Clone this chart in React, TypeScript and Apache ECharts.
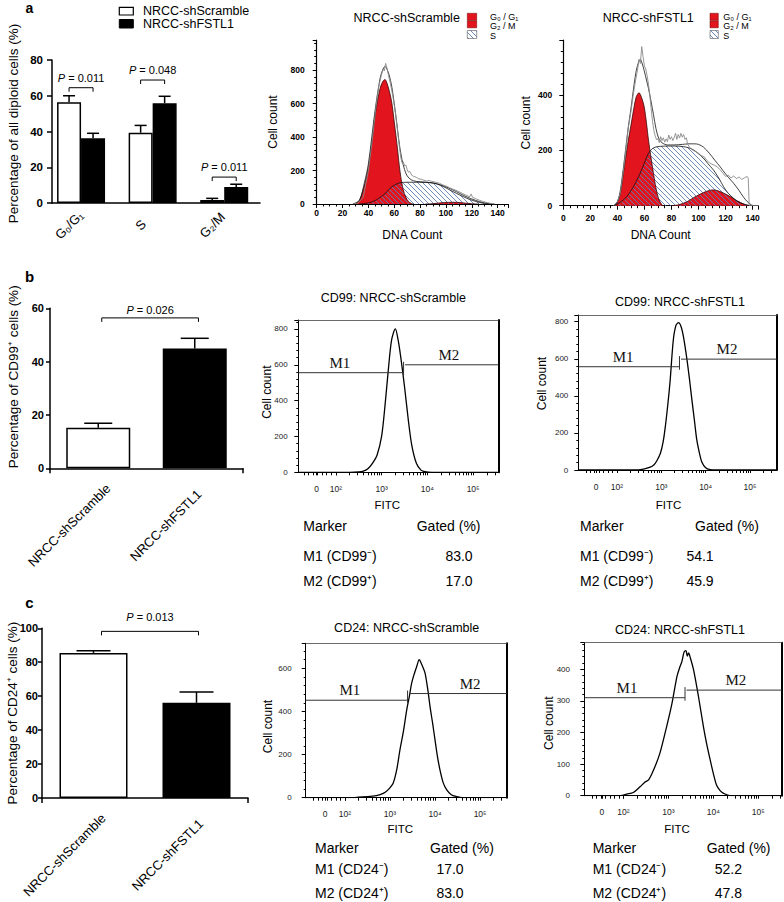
import React, { useEffect, useRef } from 'react';
import * as echarts from 'echarts';

const SANS = "'Liberation Sans', Arial, Helvetica, sans-serif";
const SERIF = "'Liberation Serif', 'Times New Roman', Times, serif";

// ---------------- Panel a: cell-cycle bar chart ----------------
const phaseCategories = ['G₀/G₁', 'S', 'G₂/M'];
const phaseScramble = [56.3, 39.3, 1.7];
const phaseScrambleErr = [60.0, 43.4, 2.6];
const phaseFSTL1 = [36.2, 55.8, 9.0];
const phaseFSTL1Err = [39.0, 59.7, 10.5];
const phasePValues = ['0.011', '0.048', '0.011'];
const phaseBracketY = [64.5, 68.8, 14.5];
const barLegend = ['NRCC-shScramble', 'NRCC-shFSTL1'];

// ---------------- Panel a: DNA histograms (x: DNA count, y: cell count) ----------------
const scrG1 = [[28, 0], [30, 3], [33, 20], [35, 60], [37.4, 124], [40, 220], [42, 330], [43.5, 420], [45, 521], [47, 615], [49, 690], [51, 730], [52.8, 744], [54, 730], [56, 680], [58, 610], [60, 490], [61.3, 410], [62.5, 330], [63.9, 230], [65, 165], [67, 84], [69, 40], [71, 15], [73.5, 2], [75, 0]];
const scrG2 = [[84, 0], [90, 2], [96, 7], [102, 10], [108, 10], [114, 6], [120, 2], [125, 0]];
const scrS = [[33, 0], [38, 4], [42, 10], [46, 24], [50, 45], [53, 62], [56.7, 94], [60, 112], [64.4, 127], [70, 130], [80, 130], [88, 127], [92.8, 120], [98, 104], [103, 84], [108, 64], [113.4, 44], [118, 28], [123.7, 14], [128, 6], [134, 0]];
const scrFit = [[28, 0], [33, 22], [37, 130], [40, 240], [45, 550], [49, 750], [51, 800], [52.8, 822], [54, 812], [56, 772], [58, 705], [60, 600], [62, 480], [64, 355], [66, 265], [68, 205], [70, 168], [73, 145], [77, 135], [83, 131], [90, 126], [96, 114], [102, 96], [108, 74], [114, 50], [120, 30], [126, 14], [131, 5], [137, 0]];
const scrRaw = [[28, 0], [32, 6], [36, 40], [40, 200], [43, 380], [46, 590], [48, 700], [50, 770], [51.3, 805], [52.3, 795], [53.3, 840], [54.3, 815], [55.5, 770], [57, 720], [59, 640], [61, 540], [62.5, 440], [64, 340], [65, 280], [66, 245], [67, 252], [68, 228], [69, 233], [70, 205], [71, 190], [72, 195], [73.5, 172], [75, 165], [77, 160], [79, 150], [81, 148], [83, 142], [85, 138], [87, 140], [89, 135], [91, 132], [93, 128], [95, 124], [97, 116], [99, 110], [101, 104], [103, 96], [105, 90], [107, 84], [109, 78], [111, 70], [113, 62], [115, 55], [117, 48], [118.5, 44], [119.5, 60], [120.5, 40], [123, 32], [126, 22], [129, 14], [132, 8], [135, 3], [138, 0]];

const fstG1 = [[37, 0], [39, 5], [42, 40], [44.4, 117], [46, 170], [48.1, 238], [50, 290], [52.4, 359], [54, 395], [56, 409], [58, 390], [59.8, 359], [61.5, 300], [63, 238], [65, 170], [66.7, 117], [68.5, 65], [70.5, 25], [72.9, 3], [74, 0]];
const fstG2 = [[80, 0], [85, 3], [91.4, 14], [96, 28], [101.3, 42], [106, 52], [110, 57], [113, 56], [116, 51], [120, 42], [123.5, 33], [127, 22], [130.9, 12], [134, 5], [137, 0]];
const fstS = [[37, 0], [42, 12], [47, 33], [52, 70], [56.8, 117], [60, 155], [63, 190], [65.5, 205], [67.9, 212], [72, 215], [76.6, 216], [82, 216], [88.9, 214], [93, 209], [96.3, 202], [100, 188], [103.7, 172], [107, 152], [111.1, 129], [115, 100], [118.5, 69], [122, 45], [125.9, 27], [129, 15], [133.3, 6], [138.3, 0]];
const fstFit = [[37, 0], [40, 15], [42, 50], [44.4, 135], [46, 200], [48.1, 285], [50, 350], [52.4, 440], [54, 490], [56, 525], [57, 530], [58, 520], [59.8, 490], [61.5, 455], [63, 425], [65, 375], [66.7, 330], [68.5, 280], [70.5, 245], [73, 228], [77, 220], [82, 220], [88, 222], [93, 224], [97, 224], [100, 222], [103.7, 212], [108, 190], [112, 165], [116, 141], [120, 115], [124, 92], [126, 81], [130, 55], [133, 33], [136, 15], [139, 3], [141, 0]];
const fstRaw = [[37, 0], [40, 14], [42, 42], [44, 110], [46, 190], [48, 280], [50, 340], [52, 410], [53.5, 455], [55, 495], [56, 530], [57, 515], [58, 576], [59, 540], [60, 505], [61, 495], [62, 470], [63, 440], [64, 400], [65, 350], [66, 305], [67, 272], [68, 252], [69, 238], [70, 244], [71, 228], [72, 250], [73, 236], [74, 246], [75, 230], [76, 242], [77, 232], [78, 256], [79, 240], [80, 250], [81, 236], [82, 246], [83, 262], [84, 240], [85, 258], [86, 245], [87, 262], [88, 248], [89, 258], [90, 240], [91, 246], [92, 222], [94, 208], [96, 200], [98, 196], [100, 190], [102, 181], [104, 178], [106, 165], [108, 156], [110, 150], [112, 146], [114, 140], [116, 130], [118, 118], [120, 106], [122, 111], [124, 100], [126, 108], [128, 98], [130, 104], [132, 95], [134, 101], [136, 106], [136.8, 100], [137.5, 0], [144, 0]];
const dnaLegend = ['G₀ / G₁', 'G₂ / M', 'S'];

// ---------------- Panels b, c: bar charts ----------------
const groupCategories = ['NRCC-shScramble', 'NRCC-shFSTL1'];
const cd99Percent = [15.2, 44.9];
const cd99Err = [16.9, 48.75];
const cd99P = '0.026';
const cd99BracketY = 56.4;
const cd24Percent = [85.5, 56.1];
const cd24Err = [86.7, 62.5];
const cd24P = '0.013';
const cd24BracketY = 98.2;

// ---------------- Panels b, c: flow histograms (x: log10 FITC, y: cell count) ----------------
const cd99ScrHist = [[1.18, 0], [2.3, 0], [2.5, 2], [2.6, 6], [2.7, 20], [2.8, 50], [2.9, 95], [3.0, 200], [3.07, 360], [3.15, 580], [3.22, 740], [3.3, 800], [3.36, 740], [3.42, 640], [3.5, 480], [3.58, 300], [3.66, 150], [3.76, 50], [3.86, 12], [3.95, 3], [4.1, 0], [5.55, 0]];
const cd99FstHist = [[1.13, 0], [2.4, 0], [2.6, 5], [2.75, 15], [2.83, 27], [2.9, 50], [2.98, 90], [3.04, 150], [3.09, 233], [3.15, 360], [3.2, 485], [3.27, 700], [3.33, 780], [3.39, 795], [3.45, 770], [3.5, 718], [3.58, 593], [3.64, 480], [3.69, 377], [3.75, 260], [3.8, 162], [3.86, 90], [3.91, 45], [4.0, 12], [4.1, 2], [4.25, 0], [5.6, 0]];
const cd24ScrHist = [[1.13, 0], [2.2, 0], [2.3, 3], [2.5, 5], [2.7, 10], [2.85, 20], [2.95, 35], [3.07, 67], [3.15, 130], [3.22, 220], [3.3, 310], [3.37, 405], [3.43, 470], [3.48, 530], [3.54, 575], [3.59, 606], [3.65, 640], [3.7, 620], [3.74, 600], [3.78, 576], [3.84, 500], [3.89, 421], [3.95, 340], [4.0, 267], [4.05, 195], [4.11, 128], [4.18, 70], [4.26, 36], [4.36, 14], [4.48, 5], [4.6, 0], [5.59, 0]];
const cd24FstHist = [[1.13, 0], [1.9, 0], [2.0, 2], [2.07, 5], [2.22, 10], [2.37, 28], [2.47, 42], [2.56, 50], [2.67, 81], [2.81, 134], [2.96, 218], [3.08, 292], [3.19, 377], [3.25, 405], [3.3, 424], [3.35, 455], [3.39, 459], [3.42, 442], [3.45, 452], [3.48, 440], [3.56, 398], [3.67, 313], [3.78, 218], [3.85, 165], [3.93, 113], [4.0, 70], [4.07, 34], [4.15, 16], [4.22, 8], [4.37, 0], [5.52, 0]];
// [gate position, M1 level, M2 level, M1 label x, M2 label x]
const cd99ScrMarker = [3.48, 556, 600, 2.09, 4.47];
const cd99FstMarker = [3.41, 557, 598, 2.14, 4.48];
const cd24ScrMarker = [3.39, 452, 483, 2.11, 4.78];
const cd24FstMarker = [3.37, 310, 334, 2.08, 4.5];
const flowTickLabels = ['0', '10²', '10³', '10⁴', '10⁵'];
const flowTitles = ['CD99: NRCC-shScramble', 'CD99: NRCC-shFSTL1', 'CD24: NRCC-shScramble', 'CD24: NRCC-shFSTL1'];
const tableHeader = ['Marker', 'Gated (%)'];
const cd99Rows = ['M1 (CD99⁻)', 'M2 (CD99⁺)'];
const cd24Rows = ['M1 (CD24⁻)', 'M2 (CD24⁺)'];
const cd99ScrGated = ['83.0', '17.0'];
const cd99FstGated = ['54.1', '45.9'];
const cd24ScrGated = ['17.0', '83.0'];
const cd24FstGated = ['52.2', '47.8'];

// ---------------- styles ----------------
const RED = '#e2141d';
const HATCH_URL =
  'data:image/svg+xml;charset=utf-8,' +
  encodeURIComponent(
    "<svg xmlns='http://www.w3.org/2000/svg' width='5' height='5'><path d='M-1,-1 L6,6 M-1,4 L1,6 M4,-1 L6,1' stroke='#5f7fb3' stroke-width='0.9' fill='none'/></svg>"
  );
const hatch: any = { image: HATCH_URL, repeat: 'repeat', imageWidth: 5, imageHeight: 5 };

function txt(text: string, x: number, y: number, o: any = {}) {
  const align = o.align || 'left';
  const va = o.va || 'middle';
  const style: any = {
    text, fill: o.color || '#000', fontSize: o.size || 12, fontFamily: o.family || SANS,
    fontWeight: o.weight || 'normal', align, verticalAlign: va, textAlign: align, textVerticalAlign: va,
  };
  if (o.lineHeight) { style.lineHeight = o.lineHeight; style.textLineHeight = o.lineHeight; }
  return { type: 'text', x, y, silent: true, style };
}

function axisLine(w = 1.5, color = '#000') {
  return { show: true, onZero: false, lineStyle: { color, width: w } };
}

function buildOption() {
  const grids: any[] = [];
  const xAxes: any[] = [];
  const yAxes: any[] = [];
  const series: any[] = [];
  const graphics: any[] = [];

  const addGrid = (g: any) => { grids.push({ ...g, outerBoundsMode: 'none', containLabel: false }); return grids.length - 1; };
  const addX = (a: any) => { xAxes.push(a); return xAxes.length - 1; };
  const addY = (a: any) => { yAxes.push(a); return yAxes.length - 1; };

  const errorSeries = (xi: number, yi: number, data: number[][], offset: number, cap: number) => ({
    type: 'custom', xAxisIndex: xi, yAxisIndex: yi, data, silent: true, z: 5, encode: { x: 0, y: 2 },
    renderItem: (params: any, api: any) => {
      const b = api.coord([api.value(0), api.value(1)]);
      const t = api.coord([api.value(0), api.value(2)]);
      const cx = b[0] + offset;
      const st = { stroke: '#000', lineWidth: 1.5 };
      return {
        type: 'group', children: [
          { type: 'line', shape: { x1: cx, y1: b[1], x2: cx, y2: t[1] }, style: st },
          { type: 'line', shape: { x1: cx - cap / 2, y1: t[1], x2: cx + cap / 2, y2: t[1] }, style: st },
        ],
      };
    },
  });

  const bracketSeries = (xi: number, yi: number, data: number[][], labels: string[], dx1: number, dx2: number, gap: number) => ({
    type: 'custom', xAxisIndex: xi, yAxisIndex: yi, data, silent: true, z: 5, encode: { x: [0, 1], y: 2 },
    renderItem: (params: any, api: any) => {
      const p1 = api.coord([api.value(0), api.value(2)]);
      const p2 = api.coord([api.value(1), api.value(2)]);
      const x1 = p1[0] + dx1, x2 = p2[0] + dx2, y = p1[1];
      const st = { stroke: '#000', lineWidth: 1 };
      return {
        type: 'group', children: [
          { type: 'line', shape: { x1, y1: y, x2, y2: y }, style: st },
          { type: 'line', shape: { x1, y1: y, x2: x1, y2: y + 4 }, style: st },
          { type: 'line', shape: { x1: x2, y1: y, x2, y2: y + 4 }, style: st },
          {
            type: 'text', x: (x1 + x2) / 2, y: y - gap,
            style: {
              text: '{i|P} = ' + labels[params.dataIndex], fill: '#000', fontSize: 11, fontFamily: SANS,
              align: 'center', verticalAlign: 'middle', textAlign: 'center', textVerticalAlign: 'middle',
              rich: { i: { fontStyle: 'italic', fontSize: 11, fontFamily: SANS, fill: '#000' } },
            },
          },
        ],
      };
    },
  });

  // rotated (45°) category labels, centred at an offset from each category position on the axis line
  const labelSeries = (xi: number, yi: number, labels: string[], dx: number, dy: number) => ({
    type: 'custom', xAxisIndex: xi, yAxisIndex: yi, data: labels.map((_, i) => [i, 0]), silent: true, z: 5,
    encode: { x: 0, y: 1 }, clip: false,
    renderItem: (params: any, api: any) => {
      const p = api.coord([api.value(0), 0]);
      return {
        type: 'text', x: p[0] + dx, y: p[1] + dy, rotation: Math.PI / 4,
        style: {
          text: labels[params.dataIndex], fill: '#000', fontSize: 13, fontFamily: SANS,
          align: 'center', verticalAlign: 'middle', textAlign: 'center', textVerticalAlign: 'middle',
        },
      };
    },
  });

  // ============ Panel a bar chart ============
  {
    const g = addGrid({ left: 52, top: 60, width: 208, height: 143 });
    const xi = addX({
      gridIndex: g, type: 'value', min: -0.406, max: 2.5, axisLine: axisLine(1.5), axisTick: { show: false },
      splitLine: { show: false }, axisLabel: { show: false },
    });
    const yi = addY({
      gridIndex: g, type: 'value', min: 0, max: 80, interval: 20, axisLine: axisLine(1.5),
      axisTick: { show: true, length: 5, lineStyle: { color: '#000', width: 1.5 } }, splitLine: { show: false },
      axisLabel: { fontSize: 11.5, fontWeight: 'bold', color: '#000', margin: 9, fontFamily: SANS },
      name: 'Percentage of all diploid cells (%)', nameLocation: 'middle', nameGap: 32, nameMoveOverlap: false,
      nameTextStyle: { fontSize: 13.5, color: '#000', fontFamily: SANS, padding: [0, 0, 0, 16] },
    });
    series.push({
      type: 'bar', name: barLegend[0], xAxisIndex: xi, yAxisIndex: yi, data: phaseScramble.map((v, i) => [i, v]),
      barWidth: 24, barGap: '0%', silent: true, itemStyle: { color: '#fff', borderColor: '#000', borderWidth: 1.5 },
    });
    series.push({
      type: 'bar', name: barLegend[1], xAxisIndex: xi, yAxisIndex: yi, data: phaseFSTL1.map((v, i) => [i, v]),
      barWidth: 24, barGap: '0%', silent: true, itemStyle: { color: '#000', borderColor: '#000', borderWidth: 1.5 },
    });
    series.push(errorSeries(xi, yi, phaseScramble.map((v, i) => [i, v, phaseScrambleErr[i]]), -12, 12));
    series.push(errorSeries(xi, yi, phaseFSTL1.map((v, i) => [i, v, phaseFSTL1Err[i]]), 12, 12));
    series.push(bracketSeries(xi, yi, phaseBracketY.map((y, i) => [i, i, y]), phasePValues, -12, 12, 10));
    series.push(labelSeries(xi, yi, phaseCategories, -12, 22));

    graphics.push({ type: 'rect', silent: true, shape: { x: 119.3, y: 7.3, width: 14, height: 7.7 }, style: { fill: '#fff', stroke: '#000', lineWidth: 1.2 } });
    graphics.push({ type: 'rect', silent: true, shape: { x: 119.3, y: 19.5, width: 14, height: 8.5 }, style: { fill: '#000', stroke: '#000', lineWidth: 1 } });
    graphics.push(txt(barLegend[0], 143, 11.2, { size: 12.5, lineHeight: 12.5 }));
    graphics.push(txt(barLegend[1], 143, 24, { size: 12.5, lineHeight: 12.5 }));
  }

  // ============ Panel a DNA histograms ============
  const dnaPanel = (cfg: any, g1: number[][], g2: number[][], s: number[][], fit: number[][], raw: number[][]) => {
    const g = addGrid({ left: cfg.left, top: cfg.top, width: cfg.width, height: cfg.height });
    const xi = addX({
      gridIndex: g, type: 'value', min: 0, max: cfg.xMax, interval: 20, axisLine: axisLine(1.2),
      axisTick: { show: true, length: 4, lineStyle: { color: '#000' } },
      minorTick: { show: true, splitNumber: 4, length: 2.5, lineStyle: { color: '#000' } },
      splitLine: { show: false }, minorSplitLine: { show: false },
      axisLabel: {
        formatter: (v: number) => (v % 20 === 0 && v <= 140 ? String(v) : ''), fontSize: 8.5, fontWeight: 'bold',
        color: '#000', margin: cfg.xMargin, fontFamily: SANS, showMaxLabel: false,
      },
      name: 'DNA Count', nameLocation: 'middle', nameGap: cfg.xNameGap, nameMoveOverlap: false,
      nameTextStyle: { fontSize: 12, color: '#000', fontFamily: SANS },
    });
    const yi = addY({
      gridIndex: g, type: 'value', min: 0, max: cfg.yMax, interval: 200, axisLine: axisLine(1.2),
      axisTick: { show: true, length: 4, lineStyle: { color: '#000' } },
      minorTick: { show: true, splitNumber: 5, length: 2.5, lineStyle: { color: '#000' } },
      splitLine: { show: false }, minorSplitLine: { show: false },
      axisLabel: {
        formatter: (v: number) => (v % 200 === 0 ? String(v) : ''), fontSize: 8.5, fontWeight: 'bold',
        color: '#000', margin: cfg.yMargin, fontFamily: SANS, showMaxLabel: false,
      },
      name: 'Cell count', nameLocation: 'middle', nameGap: cfg.yNameGap, nameMoveOverlap: false,
      nameTextStyle: { fontSize: 12, color: '#000', fontFamily: SANS },
    });
    const base = { type: 'line', xAxisIndex: xi, yAxisIndex: yi, symbol: 'none', silent: true };
    series.push({ ...base, name: 'G0/G1', data: g1, smooth: 0.3, lineStyle: { color: '#3a0808', width: 0.8 }, areaStyle: { color: RED, opacity: 1 } });
    series.push({ ...base, name: 'G2/M', data: g2, smooth: 0.3, lineStyle: { color: '#3a0808', width: 0.8 }, areaStyle: { color: RED, opacity: 1 } });
    series.push({ ...base, name: 'S', data: s, smooth: 0.3, lineStyle: { color: '#111', width: 0.8 }, areaStyle: { color: hatch, opacity: 1 } });
    series.push({ ...base, name: 'Fit', data: fit, smooth: 0.3, lineStyle: { color: '#111', width: 0.8 } });
    series.push({ ...base, name: 'Raw', data: raw, smooth: false, lineStyle: { color: '#8a8a8a', width: 0.9 } });

    graphics.push(txt(cfg.title, cfg.titleX, 18.3, { size: 12.5, align: 'center', lineHeight: 13 }));
    const bx = cfg.legendBoxX, bw = cfg.legendBoxW;
    graphics.push({ type: 'rect', silent: true, shape: { x: bx, y: 13.3, width: bw, height: 7 }, style: { fill: RED, stroke: '#6a0000', lineWidth: 0.5 } });
    graphics.push({ type: 'rect', silent: true, shape: { x: bx, y: 20.8, width: bw, height: 7 }, style: { fill: RED, stroke: '#6a0000', lineWidth: 0.5 } });
    graphics.push({ type: 'rect', silent: true, shape: { x: bx, y: 30.5, width: bw, height: 8 }, style: { fill: hatch, stroke: '#555', lineWidth: 0.6 } });
    graphics.push(txt(dnaLegend[0], cfg.legendTextX, 16.8, { size: 9, lineHeight: 9 }));
    graphics.push(txt(dnaLegend[1], cfg.legendTextX, 26.2, { size: 9, lineHeight: 9 }));
    graphics.push(txt(dnaLegend[2], cfg.legendTextX, 35.8, { size: 9, lineHeight: 9 }));
  };
  dnaPanel({ left: 316.7, top: 40, width: 191.3, height: 164, xMax: 148, yMax: 980, xMargin: 4, yMargin: 12, xNameGap: 25, yNameGap: 37.7, title: barLegend[0], titleX: 406.7, legendBoxX: 467.3, legendBoxW: 9.4, legendTextX: 490 }, scrG1, scrG2, scrS, scrFit, scrRaw);
  dnaPanel({ left: 563.3, top: 40, width: 194.7, height: 165.7, xMax: 144, yMax: 600, xMargin: 8, yMargin: 11, xNameGap: 23.3, yNameGap: 31.7, title: barLegend[1], titleX: 648.3, legendBoxX: 710, legendBoxW: 8.3, legendTextX: 723.3 }, fstG1, fstG2, fstS, fstFit, fstRaw);

  // ============ Panels b, c bar charts ============
  const groupBar = (cfg: any, values: number[], errs: number[], p: string, bracketY: number) => {
    const g = addGrid({ left: cfg.left, top: cfg.top, width: cfg.width, height: cfg.height });
    const xi = addX({
      gridIndex: g, type: 'category', data: groupCategories, axisLine: axisLine(1.5),
      axisTick: { show: true, length: 5, lineStyle: { color: '#000', width: 1.5 } },
      axisLabel: { show: false }, splitLine: { show: false },
    });
    const yi = addY({
      gridIndex: g, type: 'value', min: 0, max: cfg.yMax, interval: 20, axisLine: axisLine(1.5),
      axisTick: { show: true, length: 4, lineStyle: { color: '#000', width: 1.5 } }, splitLine: { show: false },
      axisLabel: { fontSize: 11, fontWeight: 'bold', color: '#000', margin: cfg.yMargin, fontFamily: SANS },
      name: cfg.yName, nameLocation: 'middle', nameGap: cfg.yNameGap, nameMoveOverlap: false,
      nameTextStyle: { fontSize: 13.5, color: '#000', fontFamily: SANS, padding: [0, 0, 0, cfg.namePad] },
    });
    const fills = ['#fff', '#000'];
    series.push({
      type: 'bar', xAxisIndex: xi, yAxisIndex: yi, barWidth: cfg.barWidth, silent: true,
      data: values.map((v, i) => ({ value: v, itemStyle: { color: fills[i], borderColor: '#000', borderWidth: 1.5 } })),
    });
    series.push(errorSeries(xi, yi, values.map((v, i) => [i, v, errs[i]]), 0, cfg.cap));
    series.push(bracketSeries(xi, yi, [[0, 1, bracketY]], [p], cfg.dx1, cfg.dx2, cfg.pGap));
    series.push(labelSeries(xi, yi, groupCategories, -29, 57));
  };
  groupBar({ left: 50, top: 308.3, width: 193, height: 160, yMax: 60, yMargin: 6, yNameGap: 30, namePad: 23, barWidth: 64, cap: 28, dx1: 3.5, dx2: 3.7, pGap: 8, yName: 'Percentage of CD99⁺ cells (%)' }, cd99Percent, cd99Err, cd99P, cd99BracketY);
  groupBar({ left: 42, top: 628.3, width: 206, height: 169.7, yMax: 100, yMargin: 4, yNameGap: 23, namePad: 0, barWidth: 68, cap: 34, dx1: 8, dx2: 2, pGap: 14, yName: 'Percentage of CD24⁺ cells (%)' }, cd24Percent, cd24Err, cd24P, cd24BracketY);

  graphics.push(txt('a', 29.5, 7.5, { size: 14, weight: 'bold', align: 'center', lineHeight: 14 }));
  graphics.push(txt('b', 29.5, 276, { size: 15, weight: 'bold', align: 'center', lineHeight: 15 }));
  graphics.push(txt('c', 29.5, 602.5, { size: 15, weight: 'bold', align: 'center', lineHeight: 15 }));

  // ============ Flow histograms ============
  const flowPanel = (cfg: any, hist: number[][], marker: number[], rows: string[], gated: string[]) => {
    const g = addGrid({ left: cfg.left, top: cfg.top, width: cfg.width, height: cfg.height });
    const ticks: number[] = [];
    for (let k = 2; k <= 9; k++) ticks.push(1.1 + k * 0.1);
    ticks.push(cfg.zero);
    for (let d = 2; d <= 5; d++) for (let k = 1; k <= 9; k++) { const v = d + Math.log10(k); if (v <= cfg.xMax) ticks.push(v); }
    const labelVals = [cfg.zero, 2, 3, 4, 5];
    const xi = addX({
      gridIndex: g, type: 'value', min: cfg.xMin, max: cfg.xMax, axisLine: axisLine(1),
      axisTick: { show: true, customValues: ticks, length: 3, lineStyle: { color: '#000' } },
      splitLine: { show: false },
      axisLabel: {
        customValues: labelVals, fontSize: 8.5, color: '#222', margin: 12, fontFamily: SANS,
        formatter: (v: number) => {
          let best = 0;
          labelVals.forEach((t, i) => { if (Math.abs(t - v) < Math.abs(labelVals[best] - v)) best = i; });
          return flowTickLabels[best];
        },
      },
      name: 'FITC', nameLocation: 'middle', nameGap: cfg.xNameGap, nameMoveOverlap: false,
      nameTextStyle: { fontSize: 11.5, color: '#000', fontFamily: SANS, padding: [0, cfg.xNamePad, 0, 0] },
    });
    addX({
      gridIndex: g, type: 'value', position: 'top', min: 0, max: 1, axisLine: axisLine(0.8, '#444'),
      axisTick: { show: false }, axisLabel: { show: false }, splitLine: { show: false },
    });
    const yi = addY({
      gridIndex: g, type: 'value', min: 0, max: cfg.yMax, interval: cfg.yInt, axisLine: axisLine(1),
      axisTick: { show: true, length: 4, lineStyle: { color: '#000' } },
      minorTick: { show: true, splitNumber: 5, length: 2, lineStyle: { color: '#000' } },
      splitLine: { show: false }, minorSplitLine: { show: false },
      axisLabel: {
        formatter: (v: number) => (v % cfg.yInt === 0 ? String(v) : ''), fontSize: 8, color: '#222',
        margin: cfg.yMargin, fontFamily: SANS, showMaxLabel: false,
      },
      name: 'Cell count', nameLocation: 'middle', nameGap: cfg.yNameGap, nameMoveOverlap: false,
      nameTextStyle: { fontSize: 12, color: '#000', fontFamily: SANS, padding: cfg.yNamePad },
    });
    addY({
      gridIndex: g, type: 'value', position: 'right', min: 0, max: 1, axisLine: axisLine(2),
      axisTick: { show: false }, axisLabel: { show: false }, splitLine: { show: false },
    });
    series.push({
      type: 'line', xAxisIndex: xi, yAxisIndex: yi, data: hist, smooth: 0.3, symbol: 'none', silent: true,
      lineStyle: { color: '#000', width: 1.3 },
    });
    series.push({
      type: 'custom', xAxisIndex: xi, yAxisIndex: yi, data: [marker], silent: true, z: 4, encode: { x: 0, y: 1 },
      renderItem: (params: any, api: any) => {
        const cs = params.coordSys;
        const p1 = api.coord([api.value(0), api.value(1)]);
        const p2 = api.coord([api.value(0), api.value(2)]);
        const l1 = api.coord([api.value(3), api.value(1)]);
        const l2 = api.coord([api.value(4), api.value(2)]);
        const st = { stroke: '#333', lineWidth: 1 };
        const lab = (t: string, x: number, y: number) => ({
          type: 'text', x, y,
          style: { text: t, fill: '#111', fontSize: 15, fontFamily: SERIF, align: 'center', verticalAlign: 'middle', textAlign: 'center', textVerticalAlign: 'middle' },
        });
        return {
          type: 'group', children: [
            { type: 'line', shape: { x1: cs.x, y1: p1[1], x2: p1[0], y2: p1[1] }, style: st },
            { type: 'line', shape: { x1: p1[0], y1: p2[1] - 3, x2: p1[0], y2: p1[1] + 3 }, style: st },
            { type: 'line', shape: { x1: p1[0] + 1.5, y1: p2[1], x2: cs.x + cs.width, y2: p2[1] }, style: st },
            lab('M1', l1[0], p1[1] - 10),
            lab('M2', l2[0], p2[1] - 10),
          ],
        };
      },
    });
    graphics.push(txt(cfg.title, cfg.titleX, cfg.titleY, { size: 12.5, align: 'center', lineHeight: 13 }));
    const t = cfg.table;
    graphics.push(txt(tableHeader[0], t.x1, t.y0, { size: 14, lineHeight: 15 }));
    graphics.push(txt(tableHeader[1], t.x2, t.y0, { size: 14, lineHeight: 15 }));
    rows.forEach((r, i) => {
      graphics.push(txt(r, t.x1, t.rows[i], { size: 14, lineHeight: 15 }));
      graphics.push(txt(gated[i], t.xv, t.rows[i], { size: 14, align: 'center', lineHeight: 15 }));
    });
  };

  flowPanel({ left: 298.3, top: 320, width: 200, height: 152.3, xMin: 1.18, xMax: 5.55, yMax: 850, yInt: 200, zero: 1.58, yMargin: 10.6, yNameGap: 25, yNamePad: [0, 0, 0, 8], xNameGap: 27, xNamePad: 22, title: flowTitles[0], titleX: 393.3, titleY: 298.3, table: { x1: 303.3, x2: 416.7, xv: 459, y0: 526, rows: [556, 581] } }, cd99ScrHist, cd99ScrMarker, cd99Rows, cd99ScrGated);
  flowPanel({ left: 578.3, top: 315, width: 198.4, height: 155, xMin: 1.13, xMax: 5.6, yMax: 836, yInt: 200, zero: 1.53, yMargin: 10, yNameGap: 30.6, yNamePad: [0, 0, 0, 18], xNameGap: 29, xNamePad: 18, title: flowTitles[1], titleX: 680, titleY: 301.7, table: { x1: 580, x2: 695, xv: 700, y0: 526, rows: [556, 581] } }, cd99FstHist, cd99FstMarker, cd99Rows, cd99FstGated);
  flowPanel({ left: 305.7, top: 643.3, width: 201, height: 154.4, xMin: 1.13, xMax: 5.59, yMax: 716, yInt: 200, zero: 1.56, yMargin: 14, yNameGap: 31.4, yNamePad: [0, 12, 0, 0], xNameGap: 25, xNamePad: 12, title: flowTitles[2], titleX: 406.7, titleY: 628.3, table: { x1: 315, x2: 430, xv: 450, y0: 848.3, rows: [869.3, 893.3] } }, cd24ScrHist, cd24ScrMarker, cd24Rows, cd24ScrGated);
  flowPanel({ left: 584.3, top: 642.7, width: 197.4, height: 153, xMin: 1.13, xMax: 5.52, yMax: 484, yInt: 100, zero: 1.52, yMargin: 14.3, yNameGap: 29, yNamePad: [0, 8, 0, 0], xNameGap: 27, xNamePad: 12, title: flowTitles[3], titleX: 680, titleY: 630, table: { x1: 592.7, x2: 706.7, xv: 728.3, y0: 848.3, rows: [869.3, 893.3] } }, cd24FstHist, cd24FstMarker, cd24Rows, cd24FstGated);

  return {
    animation: false,
    backgroundColor: '#fff',
    textStyle: { fontFamily: SANS },
    grid: grids,
    xAxis: xAxes,
    yAxis: yAxes,
    series,
    graphic: { elements: graphics },
  };
}

export default function App() {
  const ref = useRef<HTMLDivElement>(null);
  useEffect(() => {
    const chart = echarts.init(ref.current as HTMLDivElement, null, { renderer: 'svg' });
    chart.setOption(buildOption() as any);
    return () => chart.dispose();
  }, []);
  return (
    <div
      ref={ref}
      style={{ position: 'absolute', left: 0, top: 0, width: 784, height: 902, background: '#fff' }}
    />
  );
}
